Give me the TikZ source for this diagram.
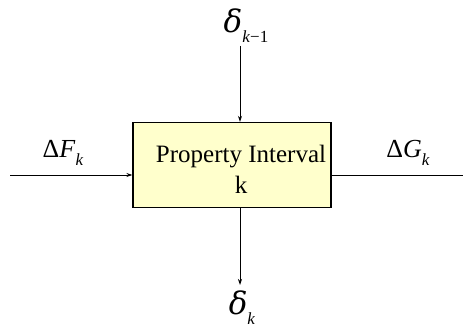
\documentclass[tikz,border=0pt]{standalone}
\usepackage{fontspec}
\setmainfont{Liberation Serif}
\newfontfamily\greekfont{DejaVu Serif}
\usetikzlibrary{arrows.meta,positioning}

\definecolor{boxfill}{RGB}{255,255,204}
\newcommand{\subk}[1]{\raisebox{-0.3em}{\fontsize{17}{17}\selectfont #1}}

\begin{document}
\begin{tikzpicture}[x=1pt,y=-1pt,
  block/.style={draw, line width=1.4pt, fill=boxfill, minimum width=198pt, minimum height=85pt},
  boxtext/.style={align=center, inner sep=0pt, font=\fontsize{25}{31}\selectfont},
  lbl/.style={inner sep=0pt, anchor=base, font=\fontsize{26}{26}\selectfont},
  big/.style={inner sep=0pt, anchor=base, font=\fontsize{31}{31}\selectfont},
  arr/.style={-{Stealth[length=6pt,width=4pt]}, line width=0.8pt},
  wire/.style={line width=0.8pt}
]
\useasboundingbox (0,0) rectangle (463,328);

\node[block] (interval) at (232,165) {};
\node[boxtext] (intervaltext) at (241,169) {Property Interval\\k};

\node[lbl] (dF) at (63,158) {Δ\textit{F}\subk{\textit{k}}};
\node[lbl] (dG) at (408,158) {Δ\textit{G}\subk{\textit{k}}};
\node[big] (dprev) at (246,33) {{\greekfont\itshape δ}\subk{\textit{k}−1}};
\node[big] (dnext) at (242,315) {{\greekfont\itshape δ}\subk{\textit{k}}};

\coordinate (fin) at (10,175);
\coordinate (gout) at (463,175);
\coordinate (top) at (240,46);
\coordinate (bot) at (240,285);

\draw[arr] (fin) -- (fin -| interval.west);
\draw[wire] (gout -| interval.east) -- (gout);
\draw[arr] (top) -- (top |- interval.north);
\draw[arr] (bot |- interval.south) -- (bot);
\end{tikzpicture}
\end{document}
